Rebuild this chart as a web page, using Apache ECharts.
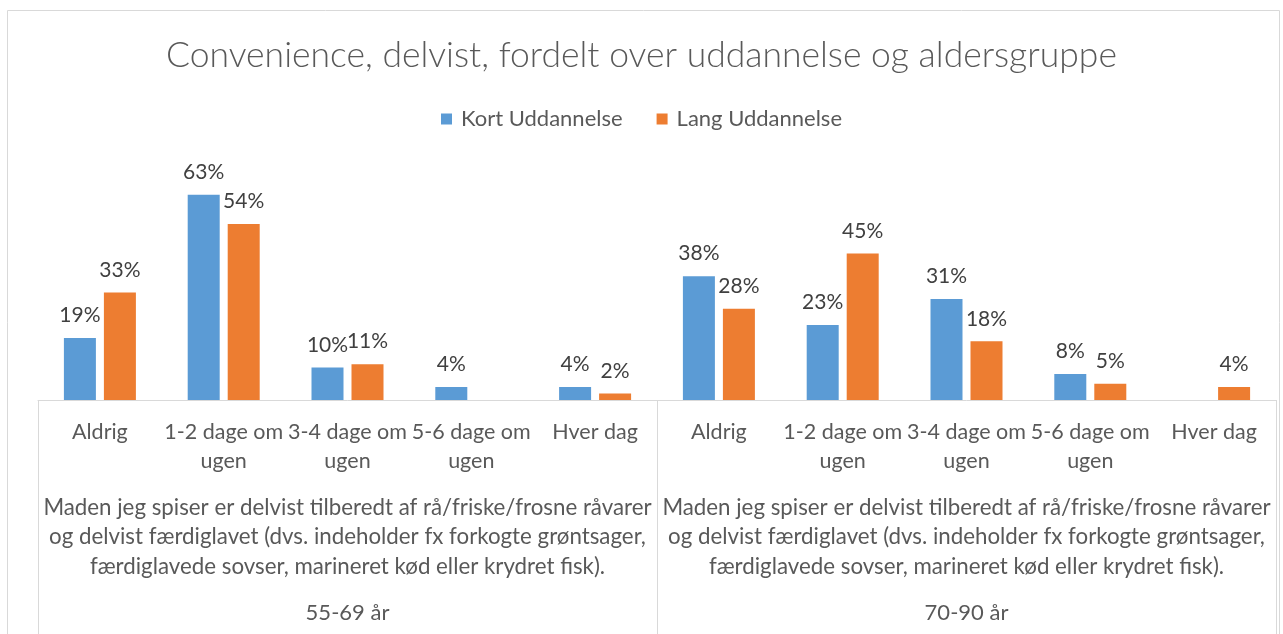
<!DOCTYPE html>
<html><head><meta charset="utf-8">
<script src="https://cdn.jsdelivr.net/npm/echarts@6/dist/echarts.min.js"></script>
<style>html,body{margin:0;padding:0;background:#fff}#c{width:1283px;height:634px}</style>
</head><body><div id="c"></div>
<script>
const titleText = 'Convenience, delvist, fordelt over uddannelse og aldersgruppe';
const categories = ['Aldrig','1-2 dage om\nugen','3-4 dage om\nugen','5-6 dage om\nugen','Hver dag',
                    'Aldrig','1-2 dage om\nugen','3-4 dage om\nugen','5-6 dage om\nugen','Hver dag'];
const groupDescription = 'Maden jeg spiser er delvist tilberedt af rå/friske/frosne råvarer\nog delvist færdiglavet (dvs. indeholder fx forkogte grøntsager,\nfærdiglavede sovser, marineret kød eller krydret fisk).';
const groups = ['55-69 år','70-90 år'];
const seriesNames = ['Kort Uddannelse','Lang Uddannelse'];
const kortValues = [19, 63, 10, 4, 4, 38, 23, 31, 8, null];
const langValues = [33, 54, 11, null, 2, 28, 45, 18, 5, 4];

const FONT = 'Lato';
const chart = echarts.init(document.getElementById('c'));
const labelStyle = {show:true, position:'top', distance:12, color:'#404040', fontFamily:FONT, fontSize:21,
  formatter: p => p.value == null ? '' : p.value + '%'};
chart.setOption({
  animation:false,
  textStyle:{fontFamily:FONT},
  title:{text:titleText, left:'center', top:33, textStyle:{fontFamily:FONT, fontWeight:300, fontSize:35.5, color:'#595959'}},
  legend:{top:103, left:'center', itemWidth:11, itemHeight:11, itemGap:34, icon:'rect',
    textStyle:{fontFamily:FONT, fontSize:22, color:'#595959', padding:[0,0,0,4]}},
  graphic:[{type:'rect', shape:{x:7.5, y:10.5, width:1272, height:700}, style:{fill:'none', stroke:'#D9D9D9', lineWidth:1}, z:-1}],
  grid:{left:38, right:7, top:172, bottom:234, containLabel:false},
  xAxis:[
    {type:'category', data:categories, position:'bottom',
     axisLine:{show:true, lineStyle:{color:'#D9D9D9', width:1}},
     axisTick:{show:false},
     axisLabel:{interval:0, margin:18, color:'#595959', fontFamily:FONT, fontSize:21.5, lineHeight:29}},
    {type:'category', data:groups, position:'bottom', offset:0,
     axisLine:{show:false},
     axisTick:{show:true, alignWithLabel:false, interval:0, length:240, lineStyle:{color:'#D9D9D9'}},
     axisLabel:{interval:0, margin:93, color:'#595959', fontFamily:FONT,
       formatter: v => '{d|' + groupDescription.split('\n').join('}\n{d|') + '}\n{a|' + v + '}',
       rich:{d:{fontFamily:FONT, fontSize:22.3, lineHeight:29.5, color:'#595959'},
             a:{fontFamily:FONT, fontSize:22, lineHeight:62, color:'#595959'}}}}
  ],
  yAxis:{type:'value', min:0, max:70, show:false, splitLine:{show:false}},
  series:[
    {name:seriesNames[0], type:'bar', data:kortValues, barWidth:32, barGap:'25%', itemStyle:{color:'#5B9BD5'}, label:labelStyle},
    {name:seriesNames[1], type:'bar', data:langValues, barWidth:32, barGap:'25%', itemStyle:{color:'#ED7D31'}, label:labelStyle}
  ]
});
</script></body></html>
